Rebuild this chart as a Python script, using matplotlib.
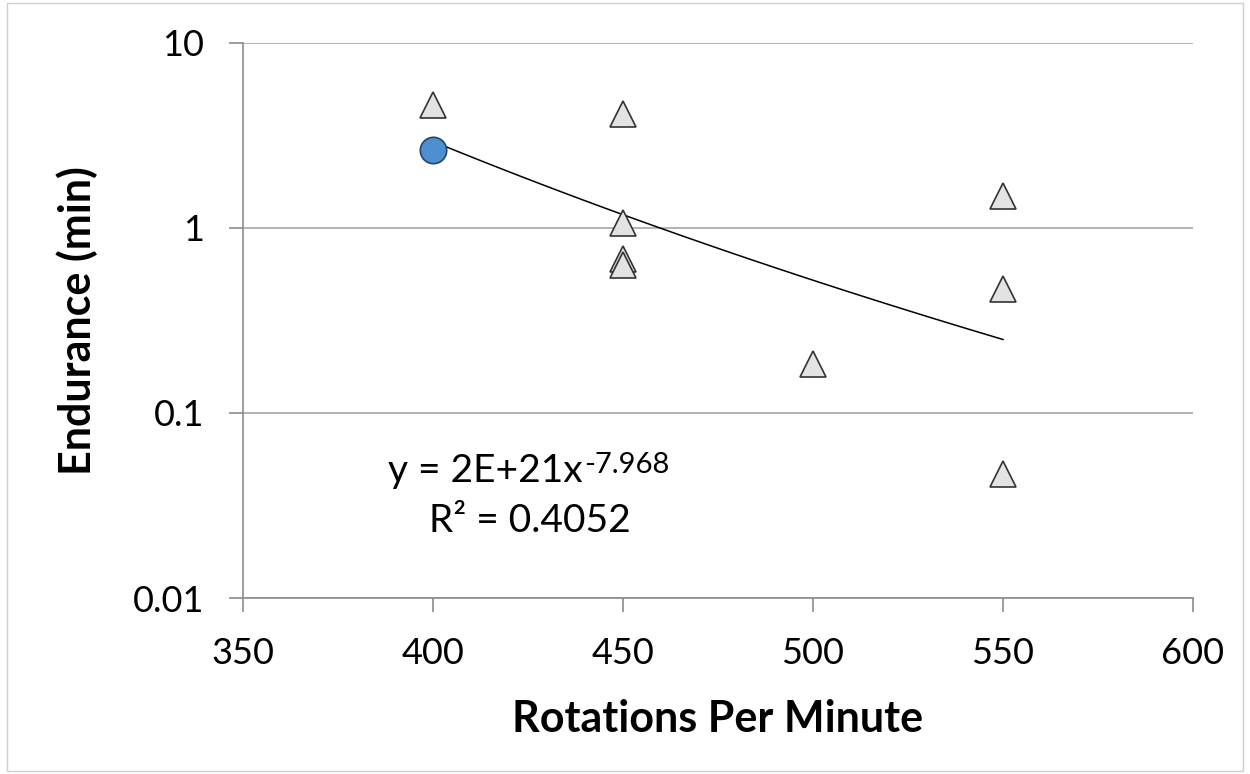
import numpy as np
import matplotlib
matplotlib.use("Agg")
import matplotlib.pyplot as plt
from matplotlib.patches import Rectangle

# data
rpm_tri = [400, 450, 450, 450, 450, 500, 550, 550, 550]
end_tri = [4.6, 4.11, 1.06, 0.68, 0.63, 0.183, 1.49, 0.47, 0.047]
rpm_circ = [400]
end_circ = [2.63]

xticks = [350, 400, 450, 500, 550, 600]
yticks = [0.01, 0.1, 1, 10]
ytick_labels = ["0.01", "0.1", "1", "10"]

eq_base = "y = 2E+21x"
eq_exp = "-7.968"
r2_text = "R² = 0.4052"

plt.rcParams['font.family'] = ['Lato', 'DejaVu Sans']

W, H = 1250, 774
fig = plt.figure(figsize=(12.5, 7.74), dpi=100)
ax = fig.add_axes([243/W, 1 - 598/H, (1193-243)/W, (598-43)/H])

# power trendline fitted in log-log space (like Excel)
x_all = np.array(rpm_tri + rpm_circ, dtype=float)
y_all = np.array(end_tri + end_circ, dtype=float)
b, a = np.polyfit(np.log(x_all), np.log(y_all), 1)
xf = np.linspace(400, 550, 50)
ax.plot(xf, np.exp(a) * xf**b, color='black', lw=1.1, zorder=2)

ax.plot(rpm_tri, end_tri, ls='none', marker='^', ms=19, mfc='#e3e3e3',
        mec='#333333', mew=1.2, zorder=3)
ax.plot(rpm_circ, end_circ, ls='none', marker='o', ms=19, mfc='#4e8fcf',
        mec='#25466b', mew=1.2, zorder=4)

ax.set_yscale('log')
ax.set_xlim(350, 600)
ax.set_ylim(0.01, 10)
ax.set_xticks(xticks)
ax.set_yticks(yticks)
ax.set_yticklabels(ytick_labels)
ax.yaxis.set_minor_locator(matplotlib.ticker.NullLocator())
ax.grid(axis='y', color='#a6a6a6', lw=1.2)
ax.set_axisbelow(True)
for s in ['top', 'right']:
    ax.spines[s].set_visible(False)
for s in ['left', 'bottom']:
    ax.spines[s].set_color('#8c8c8c')
    ax.spines[s].set_linewidth(1.2)
ax.tick_params(axis='both', direction='out', length=10, width=1.2,
               color='#8c8c8c', labelsize=26, pad=18)

ax.set_xlabel("Rotations Per Minute", fontsize=31, fontweight='bold')
ax.xaxis.label.set_va('baseline')
ax.xaxis.set_label_coords(0.5, (598 - 732) / 555)
ax.set_ylabel("Endurance (min)", fontsize=31, fontweight='bold')
ax.yaxis.label.set_va('center')
ax.yaxis.set_label_coords((77 - 243) / 950, 0.5)

# trendline equation, exponent as a separate small text
t1 = ax.text((388 - 243) / 950, (598 - 482) / 555, eq_base,
             transform=ax.transAxes, fontsize=28, ha='left', va='baseline')
ax.annotate(eq_exp, xy=(1, 1), xycoords=t1, xytext=(1, 1),
            textcoords='offset points', fontsize=21, ha='left', va='top')
ax.text(0.302, (598 - 532) / 555, r2_text, transform=ax.transAxes,
        fontsize=28, ha='center', va='baseline')

fig.patches.append(Rectangle((7/W, 3/H), 1 - 14/W, 1 - 6/H,
                             transform=fig.transFigure, fill=False,
                             edgecolor='#d0d0d0', lw=1))

fig.savefig("out.png", dpi=100)
